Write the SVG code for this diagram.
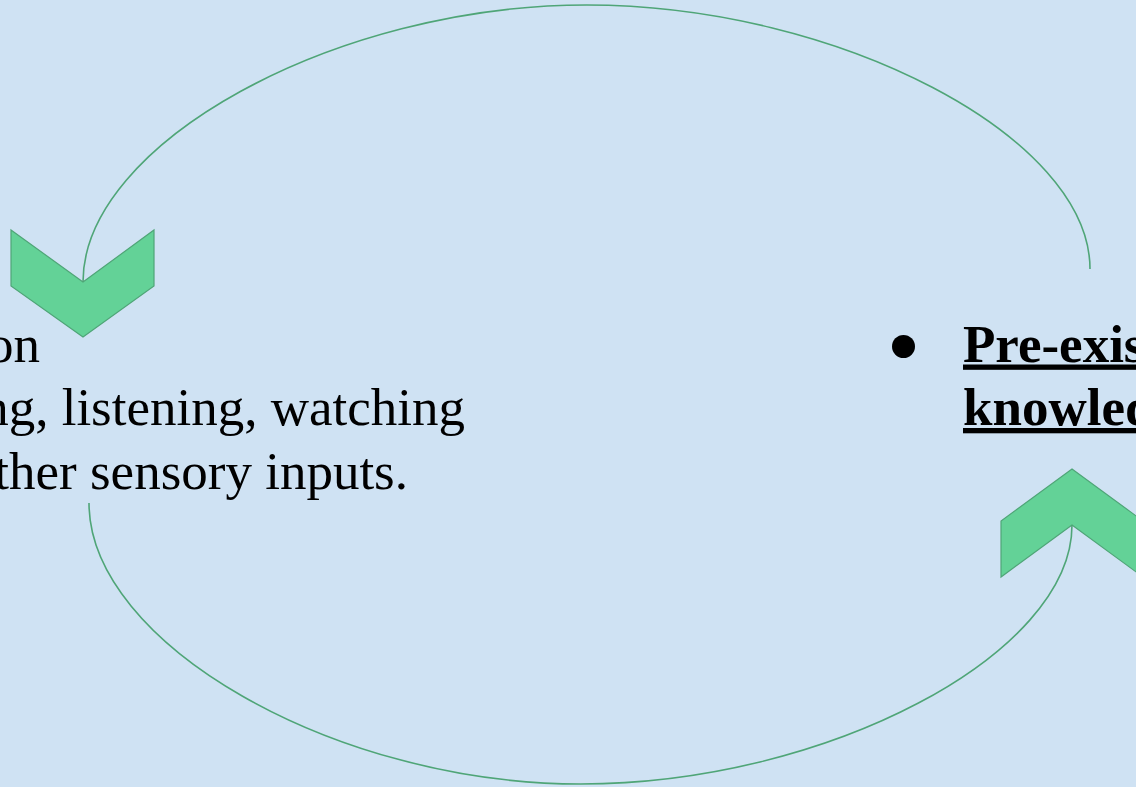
<svg xmlns="http://www.w3.org/2000/svg" width="1136" height="787" viewBox="0 0 1136 787">
  <style>
    .chev { fill: #63d297; stroke: #4fa577; stroke-width: 1.2; stroke-linejoin: miter; }
    .conn { fill: none; stroke: #4fa577; stroke-width: 1.6; }
    .body { font-family: "Liberation Serif", "Times New Roman", serif; font-size: 53px; fill: #000000; }
    .head { font-family: "Liberation Serif", "Times New Roman", serif; font-size: 53px; font-weight: bold; fill: #000000; text-decoration: underline; }
  </style>
  <rect x="0" y="0" width="1136" height="787" fill="#cfe2f3"/>

  <g id="connectors">
    <path class="conn" d="M83,282 C83,143.5 334.75,5 586.5,5 C838.25,5 1090,137 1090,269"/>
    <path class="conn" d="M89,503 C89,643.5 334.75,784 580.5,784 C826.25,784 1072,654.5 1072,525"/>
  </g>

  <g id="chevron-left">
    <polygon class="chev" points="11,230 83,282 154,230 154,286 83,337 11,286"/>
  </g>

  <g id="chevron-right">
    <polygon class="chev" points="1072,469 1143,521 1143,577 1072,525 1001,577 1001,521"/>
  </g>

  <g id="observation-text">
    <text class="body" x="40" y="362" text-anchor="end">on</text>
    <text class="body" x="465" y="425" text-anchor="end">ng, listening, watching</text>
    <text class="body" x="408" y="489" text-anchor="end">ther sensory inputs.</text>
  </g>

  <g id="preexisting-text">
    <circle cx="903.5" cy="346.5" r="11.5" fill="#000000"/>
    <text class="head" x="963" y="361.5">Pre-exis</text>
    <text class="head" x="963" y="425">knowled</text>
  </g>
</svg>
